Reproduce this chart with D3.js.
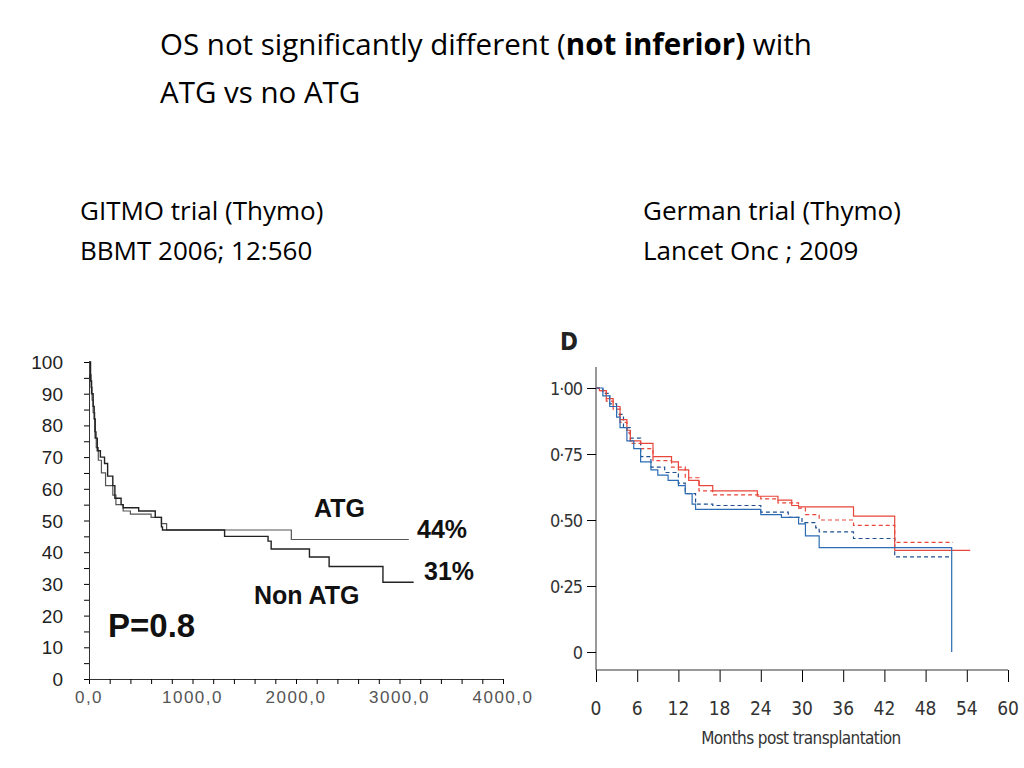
<!DOCTYPE html>
<html><head><meta charset="utf-8">
<script src="https://cdn.jsdelivr.net/npm/d3@7"></script>
<style>body{margin:0;background:#fff}svg{display:block}</style>
</head><body>
<svg id="slide" width="1024" height="768"></svg>
<script>
// GITMO trial: days vs % survival
const atgDays = [0,10,20,30,40,55,70,90,120,160,230,260,330,400,600,700,750,1955,3090];
const atgSurv = [100,96,92,88,84,78,73,69,65,61,58,55,53,52,51,49,47,44,44];
const nonDays = [0,15,25,40,50,60,80,110,150,180,230,250,310,330,480,640,700,710,1310,1730,1760,2130,2320,2840,3137];
const nonSurv = [100,94,90,86,82,76,72,70,68,64,61,57,55,54,53,51,48,47,45,43.5,41,38.5,35.5,30.5,30.5];
const leftXTicks = [0,1000,2000,3000,4000];
const leftYTicks = [0,10,20,30,40,50,60,70,80,90,100];

// German trial: months vs survival
const redSolidT = [0,0.5,1.5,2.5,3.5,4.5,5,6.5,8.3,11,12,13.5,15,17,23.5,26.5,28.5,29.5,37.5,43.5,54.5];
const redSolidS = [1,0.99,0.96,0.93,0.88,0.84,0.80,0.79,0.74,0.72,0.69,0.65,0.63,0.61,0.59,0.575,0.555,0.55,0.515,0.385,0.385];
const redDashT = [0,0.5,1.5,2.5,3.5,4.5,5,6.5,8.3,11,13,15,17,24,26.5,29.5,30.5,32.5,37.5,43.5,52];
const redDashS = [1,0.99,0.95,0.92,0.87,0.83,0.79,0.77,0.725,0.70,0.66,0.61,0.595,0.58,0.565,0.545,0.52,0.50,0.48,0.415,0.415];
const blueSolidT = [0,1,2,3,3.5,4.5,5.5,6.5,8,9,10.5,12,13,14,14.5,24,27,29.5,30.5,32.5,51.8,51.8];
const blueSolidS = [1,0.97,0.93,0.89,0.85,0.80,0.77,0.72,0.69,0.67,0.65,0.63,0.60,0.56,0.54,0.52,0.51,0.485,0.44,0.395,0.395,0];
const blueDashT = [0,1,2,3,4,5,6.5,8,10,12,13,14.5,17,24,28,30,32,32.5,37.5,43.5,51.8];
const blueDashS = [1,0.98,0.94,0.90,0.85,0.81,0.74,0.70,0.68,0.64,0.60,0.56,0.555,0.53,0.51,0.49,0.47,0.455,0.43,0.36,0.36];
const rightXTicks = [0,6,12,18,24,30,36,42,48,54,60];
const rightYTicks = [0,0.25,0.5,0.75,1];

const svg = d3.select("#slide");
const zip = (a, b) => a.map((v, i) => [v, b[i]]);
const step = (x, y) => d3.line().x(d => x(d[0])).y(d => y(d[1])).curve(d3.curveStepAfter);

// slide text
const title = svg.append("text").attr("font-family", "'Open Sans', Lato, sans-serif").attr("font-size", 29.5).attr("fill", "#000");
title.append("tspan").attr("x", 160).attr("y", 55).text("OS not significantly different (");
title.append("tspan").attr("font-weight", "bold").text("not inferior)");
title.append("tspan").text(" with");
title.append("tspan").attr("x", 160).attr("y", 103).text("ATG vs no ATG");
const sub = [["GITMO trial (Thymo)", 80, 220], ["BBMT 2006; 12:560", 80, 260],
             ["German trial (Thymo)", 643, 220], ["Lancet Onc ; 2009", 643, 260]];
svg.selectAll("text.sub").data(sub).enter().append("text").attr("class", "sub")
  .attr("x", d => d[1]).attr("y", d => d[2])
  .attr("font-family", "'Open Sans', Lato, sans-serif").attr("font-size", 26).text(d => d[0]);

// ---- left chart
const lx = d3.scaleLinear().domain([0, 4000]).range([89, 503]);
const ly = d3.scaleLinear().domain([0, 100]).range([679, 362]);
const gl = svg.append("g").attr("font-family", "'Liberation Sans', Arial, sans-serif");
gl.append("g").attr("transform", "translate(0,679)")
  .call(d3.axisBottom(lx).ticks(20).tickSize(5).tickFormat(""))
  .call(g => g.select(".domain").attr("stroke", "#333"));
gl.selectAll("text.lxt").data(leftXTicks).enter().append("text").attr("class", "lxt")
  .attr("x", d => lx(d)).attr("y", 703).attr("text-anchor", "middle")
  .attr("font-size", 17).attr("fill", "#555").attr("letter-spacing", 1.5)
  .text(d => d3.format(".1f")(d).replace(".", ","));
gl.append("g").attr("transform", "translate(89,0)")
  .call(d3.axisLeft(ly).ticks(20).tickSize(5).tickFormat(""))
  .call(g => g.select(".domain").attr("stroke", "#333"));
gl.selectAll("text.lyt").data(leftYTicks).enter().append("text").attr("class", "lyt")
  .attr("x", 63).attr("y", d => ly(d) + 7).attr("text-anchor", "end")
  .attr("font-size", 19).attr("fill", "#222").text(d => d);
gl.append("path").datum(zip(atgDays, atgSurv)).attr("fill", "none").attr("stroke", "#555").attr("stroke-width", 1.2).attr("d", step(lx, ly));
gl.append("path").datum(zip(nonDays, nonSurv)).attr("fill", "none").attr("stroke", "#222").attr("stroke-width", 1.4).attr("d", step(lx, ly));
const lab = [["ATG", 314, 517, 25], ["44%", 417, 538, 25], ["31%", 424, 580, 25], ["Non ATG", 254, 604, 25], ["P=0.8", 108, 637, 33]];
gl.selectAll("text.lab").data(lab).enter().append("text").attr("class", "lab")
  .attr("x", d => d[1]).attr("y", d => d[2]).attr("font-size", d => d[3])
  .attr("font-weight", "bold").attr("fill", "#111").text(d => d[0]);

// ---- right chart
const rx = d3.scaleLinear().domain([0, 60]).range([596, 1008]);
const ry = d3.scaleLinear().domain([0, 1]).range([652, 388]);
const gr = svg.append("g").attr("font-family", "'DejaVu Sans Condensed', 'Liberation Sans Narrow', sans-serif");
gr.append("text").attr("x", 560).attr("y", 350).attr("font-size", 24).attr("font-weight", "bold").attr("fill", "#222").text("D");
gr.append("line").attr("x1", 596).attr("x2", 596).attr("y1", 367).attr("y2", 670).attr("stroke", "#333");
gr.append("g").attr("transform", "translate(0,670)")
  .call(d3.axisBottom(rx).tickValues(rightXTicks).tickSize(12).tickFormat(""))
  .call(g => g.select(".domain").remove())
  .call(g => g.append("line").attr("x1", 596).attr("x2", 1008).attr("stroke", "#333"));
gr.selectAll("text.rxt").data(rightXTicks).enter().append("text").attr("class", "rxt")
  .attr("x", d => rx(d)).attr("y", 715).attr("text-anchor", "middle")
  .attr("font-size", 19).attr("fill", "#333").text(d => d);
gr.append("g").attr("transform", "translate(596,0)")
  .call(d3.axisLeft(ry).tickValues(rightYTicks).tickSize(9).tickFormat(""))
  .call(g => g.select(".domain").remove());
gr.selectAll("text.ryt").data(rightYTicks).enter().append("text").attr("class", "ryt")
  .attr("x", 582).attr("y", d => ry(d) + 7).attr("text-anchor", "end")
  .attr("font-size", 18).attr("fill", "#333").attr("letter-spacing", -1)
  .text(d => d3.format(".2f")(d).replace(".", "·").replace(/^0·00$/, "0"));
gr.append("text").attr("x", 801).attr("y", 744).attr("text-anchor", "middle").attr("font-size", 17)
  .attr("fill", "#333").attr("letter-spacing", -0.6).text("Months post transplantation");
const series = [[redDashT, redDashS, "#e8463a", "4,3"], [blueDashT, blueDashS, "#21508f", "4,3"],
                [redSolidT, redSolidS, "#e8463a", null], [blueSolidT, blueSolidS, "#2b6cb3", null]];
series.forEach(s => gr.append("path").datum(zip(s[0], s[1])).attr("fill", "none")
  .attr("stroke", s[2]).attr("stroke-width", 1.2).attr("stroke-dasharray", s[3]).attr("d", step(rx, ry)));
</script>
</body></html>
